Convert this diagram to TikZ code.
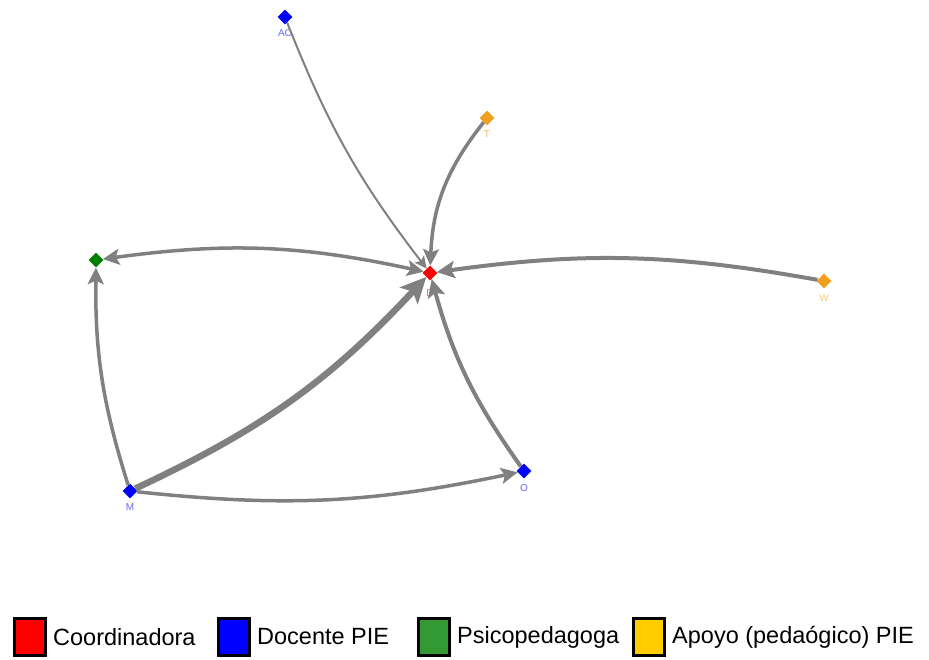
\documentclass[tikz,border=0pt]{standalone}
\usepackage{fontspec}
\setmainfont{Liberation Sans}
\usetikzlibrary{shapes.geometric,arrows.meta}
\definecolor{cRed}{RGB}{255,0,0}
\definecolor{cBlue}{RGB}{0,0,255}
\definecolor{cGreen}{RGB}{0,128,0}
\definecolor{cOrange}{RGB}{240,160,30}
\definecolor{lgGreen}{RGB}{51,153,51}
\definecolor{lgYellow}{RGB}{255,204,0}
\definecolor{edgeGray}{RGB}{128,128,128}
\tikzset{
  tip/.tip={Stealth[inset=1pt 0.7,length=6pt 3,width=6pt 2.8]},
  vtx/.style={diamond,minimum size=15pt,inner sep=0pt,fill=#1},
  vlab/.style={font=\fontsize{10}{10}\selectfont,text=#1,inner sep=0pt},
  edge/.style={draw=edgeGray,line width=#1,-tip},
  legbox/.style={draw=black,line width=2.5pt,fill=#1,minimum width=31pt,minimum height=37pt,inner sep=0pt},
  legtext/.style={font=\fontsize{23.5}{24}\selectfont,anchor=west,inner sep=0pt}
}
\begin{document}
\begin{tikzpicture}[x=1pt,y=-1pt]
\useasboundingbox (0,0) rectangle (929,660);
% vertices
\node[vtx=cBlue] (AC) at (285,17) {};
\node[vtx=cOrange] (T) at (487,118) {};
\node[vtx=cRed] (D) at (430,273) {};
\node[vtx=cGreen] (U) at (96,260) {};
\node[vtx=cOrange] (W) at (824,281) {};
\node[vtx=cBlue] (M) at (130,491) {};
\node[vtx=cBlue] (O) at (524,471) {};
% labels
\node[vlab=cBlue!60] (lAC) at (285,33) {AC};
\node[vlab=cOrange!70] (lT) at (487,134) {T};
\node[vlab=cRed!60] (lD) at (430,293) {D};
\node[vlab=cGreen!60] (lU) at (96,278) {U};
\node[vlab=cOrange!60] (lW) at (824,298) {W};
\node[vlab=cBlue!60] (lM) at (130,507) {M};
\node[vlab=cBlue!60] (lO) at (524,488) {O};
% edges
\draw[edge=2pt] (AC) to[bend right=8] (D);
\draw[edge=3.5pt] (T) to[bend right=18] (D);
\draw[edge=3.5pt,tip-tip] (D) to[bend right=10] (U);
\draw[edge=4pt] (W) to[bend right=9] (D);
\draw[edge=6.5pt] (M) to[bend right=11] (D);
\draw[edge=3.5pt] (M) to[bend left=9] (U);
\draw[edge=3.5pt] (M) to[bend right=9] (O);
\draw[edge=4pt] (O) to[bend left=10] (D);
% legend
\node[legbox=cRed] (b1) at (30,637) {};
\node[legtext] (t1) at (53,637) {Coordinadora};
\node[legbox=cBlue] (b2) at (234,637) {};
\node[legtext] (t2) at (257,637) {Docente PIE};
\node[legbox=lgGreen] (b3) at (434,637) {};
\node[legtext] (t3) at (457,637) {Psicopedagoga};
\node[legbox=lgYellow] (b4) at (649,637) {};
\node[legtext] (t4) at (672,637) {Apoyo (pedaógico) PIE};
\end{tikzpicture}
\end{document}
